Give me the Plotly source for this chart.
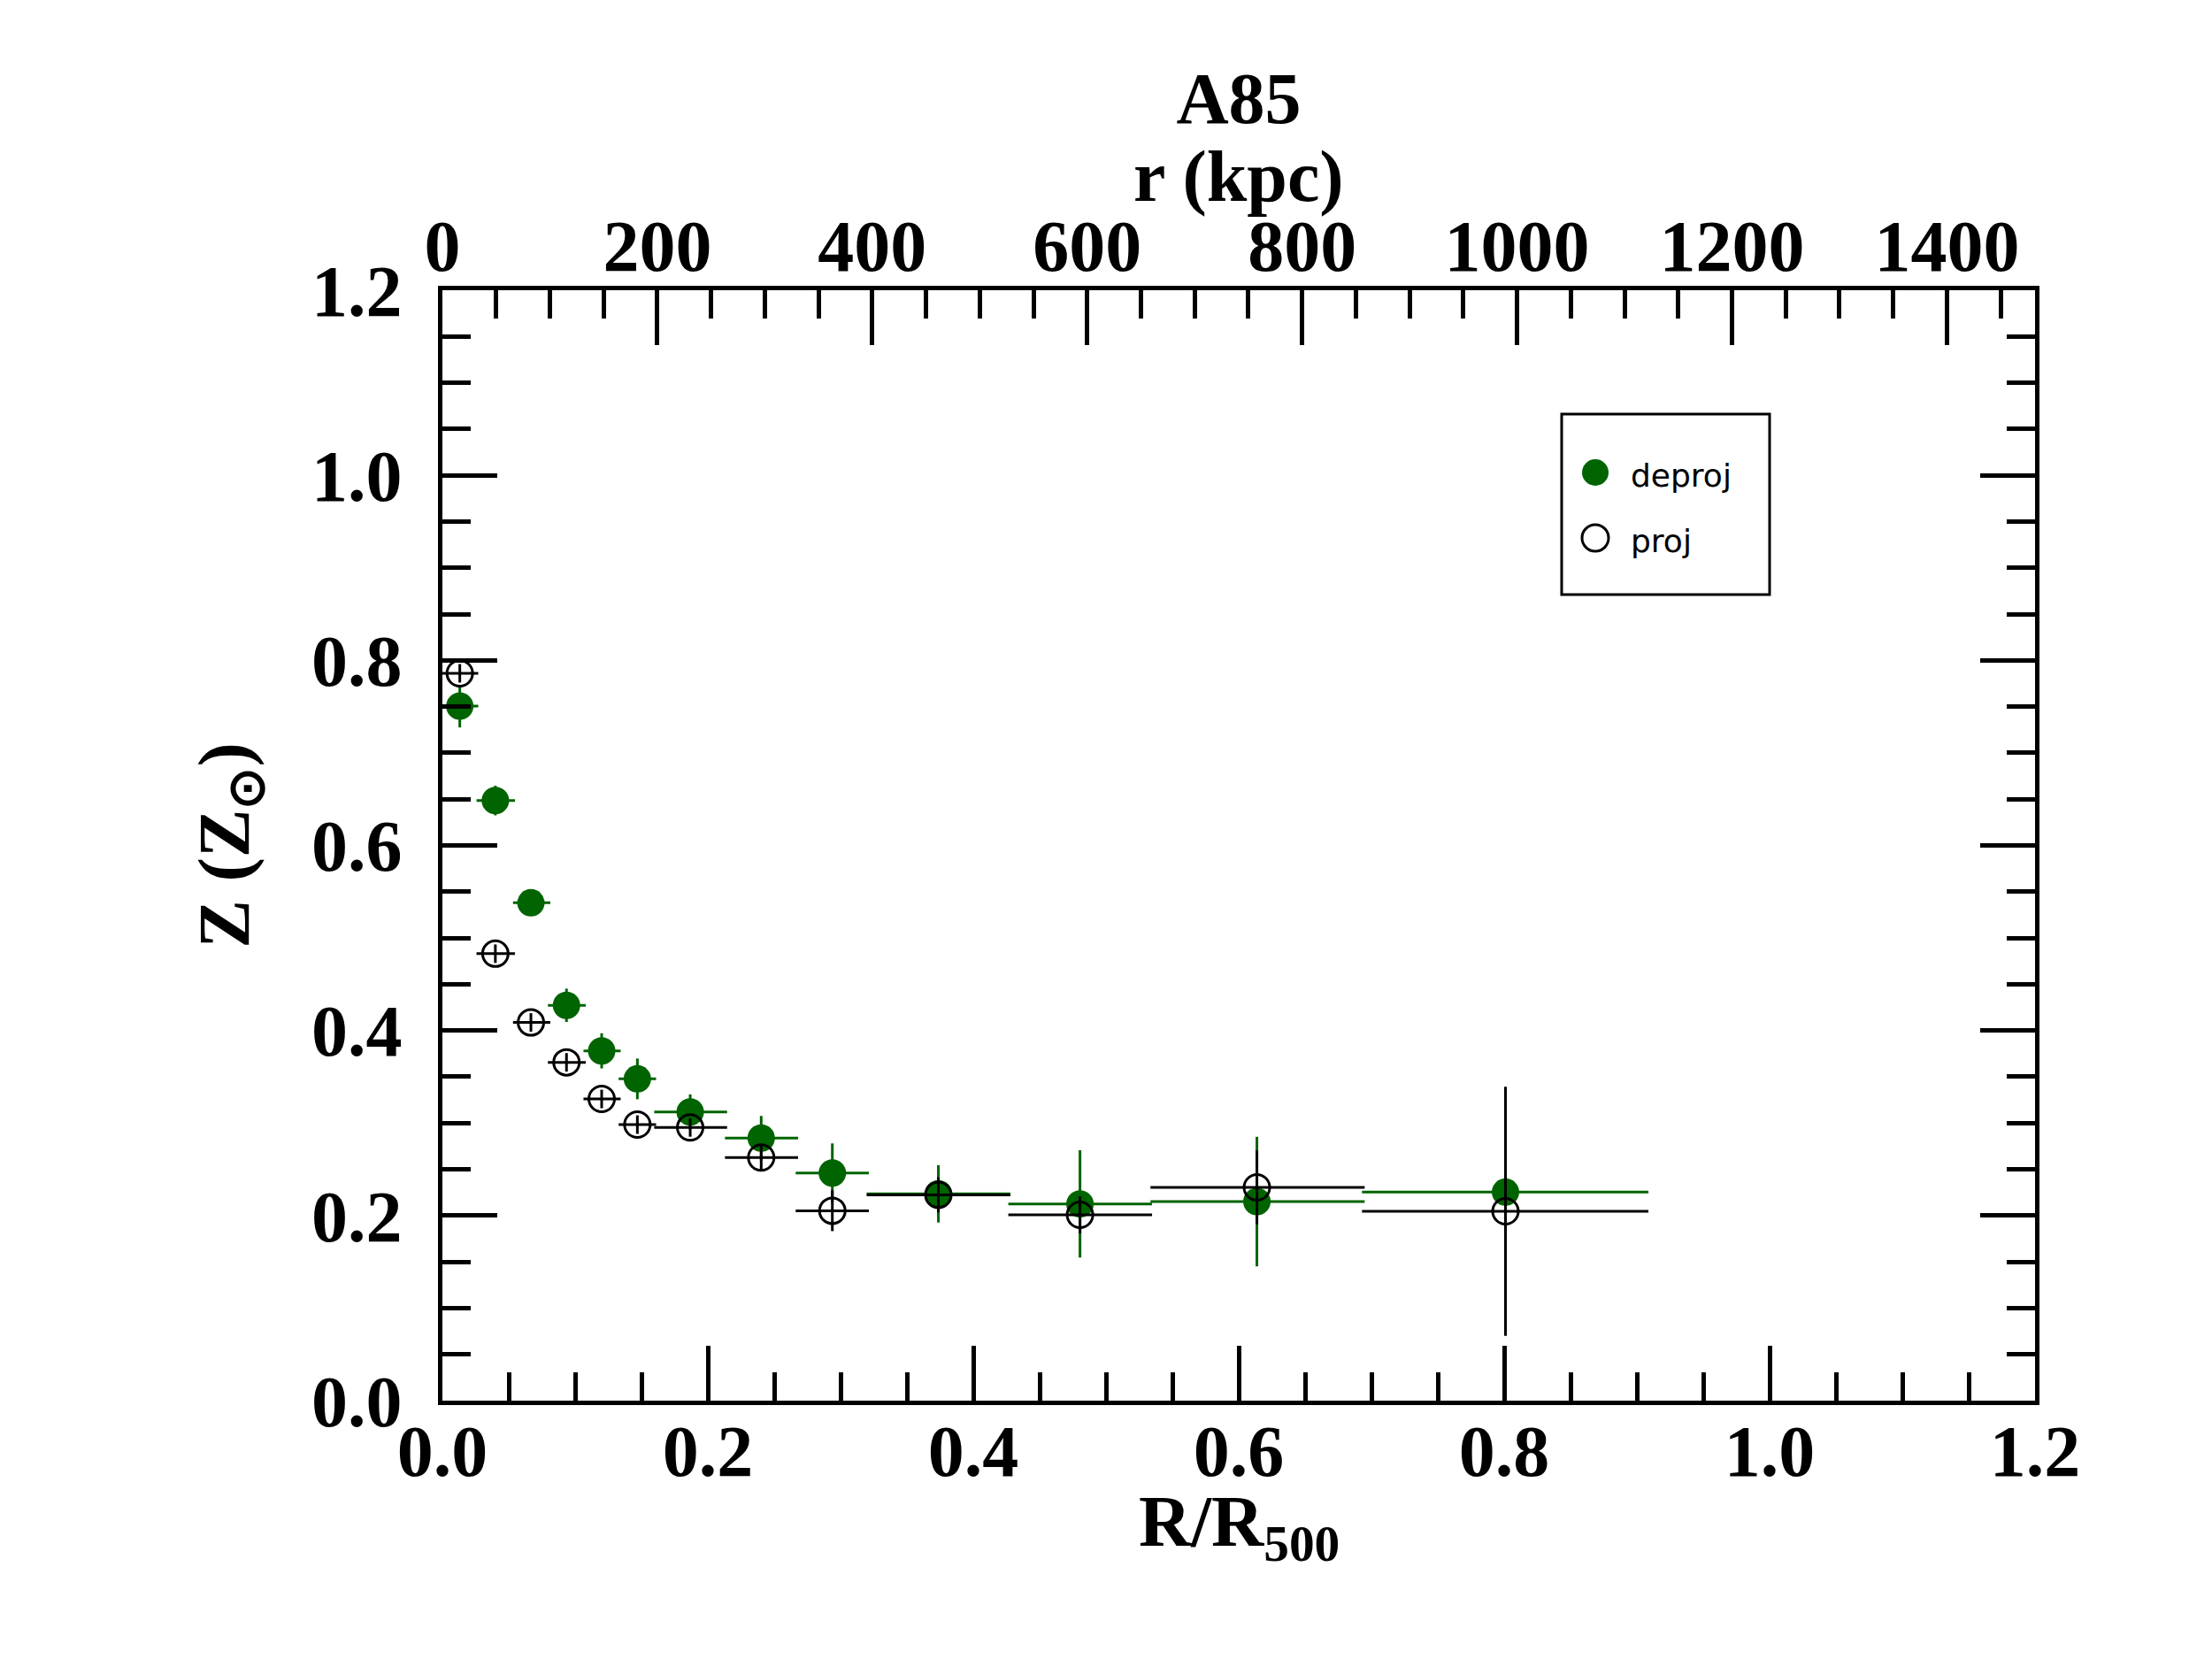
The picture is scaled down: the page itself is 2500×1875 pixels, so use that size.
import plotly.graph_objects as go

# radial bins in units of R500: centre and bin edges
r_mid = [0.0131, 0.0399, 0.0667, 0.0935, 0.1200, 0.1469, 0.1867,
         0.2402, 0.2938, 0.3737, 0.4804, 0.6137, 0.8010]
r_lo = [0.0000, 0.0257, 0.0532, 0.0795, 0.1063, 0.1328, 0.1596,
        0.2129, 0.2662, 0.3197, 0.4264, 0.5335, 0.6929]
r_hi = [0.0270, 0.0547, 0.0813, 0.1080, 0.1343, 0.1610, 0.2145,
        0.2680, 0.3213, 0.4280, 0.5347, 0.6949, 0.9087]

# metallicity (solar units)
z_deproj = [0.7505, 0.6485, 0.538, 0.4272, 0.378, 0.3477, 0.312,
            0.2837, 0.246, 0.2235, 0.2126, 0.2151, 0.2253]
z_deproj_err = [0.023, 0.016, 0.012, 0.018, 0.019, 0.022, 0.019,
                0.024, 0.032, 0.031, 0.058, 0.070, 0.100]
z_proj = [0.786, 0.483, 0.4087, 0.3656, 0.326, 0.2983, 0.2952,
          0.2627, 0.2052, 0.2224, 0.2008, 0.2305, 0.2046]
z_proj_err = [0.010, 0.010, 0.010, 0.010, 0.010, 0.010, 0.010,
              0.015, 0.022, 0.019, 0.020, 0.040, 0.1345]

R500_KPC = 1235.0
x_ticks = [0.0, 0.2, 0.4, 0.6, 0.8, 1.0, 1.2]
kpc_ticks = [0, 200, 400, 600, 800, 1000, 1200, 1400]
y_ticks = [0.0, 0.2, 0.4, 0.6, 0.8, 1.0, 1.2]

GREEN = "#006400"
W, H = 2500, 1875
OFF = 8  # page body margin shifts the figure by this much
# plot area in screen pixels
L, R, T, B = 500, 2300, 328, 1583

serif = dict(family="Liberation Serif, Times New Roman, serif", size=82,
             color="black", weight="bold")
sans = dict(family="DejaVu Sans, sans-serif", size=36, color="black")

xm = [m - lo for m, lo in zip(r_mid, r_lo)]
xp = [hi - m for m, hi in zip(r_mid, r_hi)]

fig = go.Figure()

# invisible copy on the kpc axis so the top axis gets drawn
fig.add_trace(go.Scatter(
    x=[m * R500_KPC for m in r_mid], y=z_deproj, xaxis="x2", yaxis="y",
    mode="markers", marker=dict(opacity=0), hoverinfo="skip",
    showlegend=False,
))
fig.add_trace(go.Scatter(
    x=r_mid, y=z_deproj, mode="markers", name="deproj",
    marker=dict(symbol="circle", size=31, color=GREEN),
    error_x=dict(type="data", symmetric=False, array=xp, arrayminus=xm,
                 color=GREEN, thickness=3, width=0),
    error_y=dict(type="data", array=z_deproj_err, color=GREEN,
                 thickness=3, width=0),
))
fig.add_trace(go.Scatter(
    x=r_mid, y=z_proj, mode="markers", name="proj",
    marker=dict(symbol="circle-open", size=29, color="black",
                line=dict(width=3)),
    error_x=dict(type="data", symmetric=False, array=xp, arrayminus=xm,
                 color="black", thickness=3, width=0),
    error_y=dict(type="data", array=z_proj_err, color="black",
                 thickness=3, width=0),
))

axis_common = dict(
    ticks="inside", ticklen=62, tickwidth=5, tickcolor="black",
    showline=True, linewidth=5, linecolor="black",
    showgrid=False, zeroline=False, tickfont=serif,
)
minor_common = dict(ticks="inside", ticklen=32, tickwidth=5,
                    tickcolor="black", showgrid=False)

fig.update_layout(
    width=W, height=H,
    margin=dict(l=L - OFF, r=W - R + OFF, t=T - OFF, b=H - B + OFF),
    paper_bgcolor="white", plot_bgcolor="white",
    showlegend=False,
    title=dict(text="A85", font=serif, x=((L + R) / 2 - OFF) / W,
               xanchor="center", y=1 - (110 - OFF) / H, yanchor="middle",
               yref="container"),
    xaxis=dict(
        range=[0, 1.2], tickvals=x_ticks,
        ticktext=["%.1f" % v for v in x_ticks],
        minor=dict(dtick=0.05, tick0=0, **minor_common),
        ticklabelstandoff=-18,
        **axis_common,
    ),
    xaxis2=dict(
        overlaying="x", side="top", anchor="y",
        range=[0, 1.2 * R500_KPC], tickvals=kpc_ticks,
        minor=dict(dtick=50, tick0=0, **minor_common),
        ticklabelstandoff=-16,
        **axis_common,
    ),
    yaxis=dict(
        range=[0, 1.2], tickvals=y_ticks, tickformat=".1f",
        mirror="ticks",
        minor=dict(dtick=0.05, tick0=0, **minor_common),
        ticklabelstandoff=24,
        title=dict(text="Z (Z<sub>⊙</sub>)", font=serif, standoff=45),
        **axis_common,
    ),
)


def px_x(p):
    return (p - L) / (R - L)


def px_y(p):
    return (B - p) / (B - T)


# axis captions for the two x scales
fig.add_annotation(text="R/R<sub>500</sub>", xref="paper", yref="paper",
                   x=0.5, y=px_y(1725), xanchor="center", yanchor="middle",
                   showarrow=False, font=serif)
fig.add_annotation(text="r (kpc)", xref="paper", yref="paper",
                   x=0.5, y=px_y(199), xanchor="center", yanchor="middle",
                   showarrow=False, font=serif)

# legend box drawn by hand so the symbols keep their plotted size
fig.add_shape(type="rect", xref="paper", yref="paper",
              x0=px_x(1765), x1=px_x(2000), y0=px_y(672), y1=px_y(468),
              line=dict(color="black", width=3), fillcolor="white",
              layer="above")
legend_rows = [("deproj", 534, dict(fillcolor=GREEN, line=dict(width=0))),
               ("proj", 608, dict(fillcolor="rgba(0,0,0,0)",
                                  line=dict(color="black", width=3)))]
for label, yc, style in legend_rows:
    fig.add_shape(type="circle", xref="paper", yref="paper",
                  xsizemode="pixel", ysizemode="pixel",
                  xanchor=px_x(1803), yanchor=px_y(yc),
                  x0=-15, x1=15, y0=-15, y1=15, layer="above", **style)
    fig.add_annotation(text=label, xref="paper", yref="paper",
                       x=px_x(1841), y=px_y(yc + 3), xanchor="left",
                       yanchor="middle", showarrow=False, font=sans)

fig.write_html("out.html")
